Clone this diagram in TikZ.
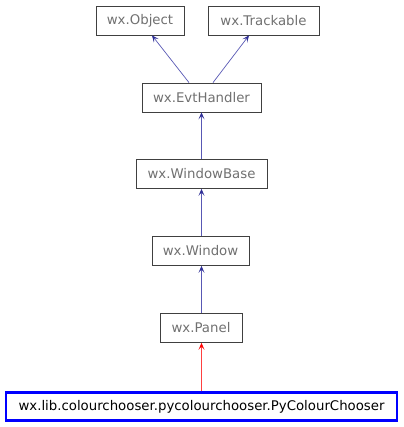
\documentclass[tikz,border=0pt]{standalone}
\usepackage{fontspec}
\setmainfont{DejaVu Sans}
\usetikzlibrary{arrows.meta}
\definecolor{edgeblue}{HTML}{5858B4}
\definecolor{tipblue}{HTML}{2F2F95}
\definecolor{edgered}{HTML}{FF4040}
\definecolor{txtgray}{HTML}{707070}
\begin{document}
\begin{tikzpicture}[x=1pt,y=-1pt,
  cls/.style={draw=black!75, line width=0.8pt, inner sep=0pt, text=txtgray,
    font=\fontsize{13.3}{16}\selectfont, minimum height=29pt},
  main/.style={draw=blue, line width=2.4pt, inner sep=0pt, text=black,
    font=\fontsize{13.3}{16}\selectfont, minimum height=28pt},
  inh/.style={draw=edgeblue, line width=1pt, -{Stealth[length=7pt,width=6pt,inset=3.5pt,line width=0.6pt,color=tipblue]}},
  inhr/.style={draw=edgered, line width=1pt, -{Stealth[length=7pt,width=6pt,inset=3.5pt,line width=0.6pt,color=red]}}]
\useasboundingbox (0,0) rectangle (403,427);
\node[cls, minimum width=88pt] (obj) at (140,20.5) {wx.Object};
\node[cls, minimum width=111pt] (trk) at (263.5,20.5) {wx.Trackable};
\node[cls, minimum width=119pt] (evt) at (201.5,97.5) {wx.EvtHandler};
\node[cls, minimum width=131pt] (wb) at (201.5,174) {wx.WindowBase};
\node[cls, minimum width=97pt] (win) at (200.5,251) {wx.Window};
\node[cls, minimum width=82pt] (pan) at (201,328) {wx.Panel};
\node[main, minimum width=391pt] (pcc) at (201.5,406.5) {wx.lib.colourchooser.pycolourchooser.PyColourChooser};
\draw[inh, line width=0.7pt] (evt.north -| 189,0) -- (obj.south -| 152,0);
\draw[inh, line width=0.7pt] (evt.north -| 213,0) -- (trk.south -| 249,0);
\draw[inh] (wb.north -| 201.5,0) -- (evt.south -| 201.5,0);
\draw[inh] (win.north -| 201.5,0) -- (wb.south -| 201.5,0);
\draw[inh] (pan.north -| 201.5,0) -- (win.south -| 201.5,0);
\draw[inhr] (pcc.north -| 201.5,0) -- (pan.south -| 201.5,0);
\end{tikzpicture}
\end{document}
